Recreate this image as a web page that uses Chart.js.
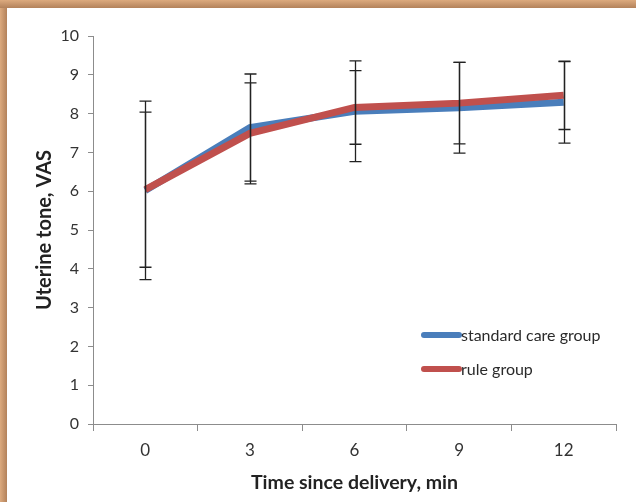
<!DOCTYPE html>
<html>
<head>
<meta charset="utf-8">
<script src="https://cdn.jsdelivr.net/npm/chart.js@4.4.1/dist/chart.umd.min.js"></script>
<style>
  html, body { margin: 0; padding: 0; background: #fff; }
  #wrap { position: relative; width: 636px; height: 502px; overflow: hidden; }
  #grafico { position: absolute; left: 0; top: 0; }
  .bordaTopo { position: absolute; left: 0; top: 0; width: 636px; height: 8px;
    background: linear-gradient(#dcaa7e, #b3825b); }
  .bordaEsq { position: absolute; left: 0; top: 0; width: 7px; height: 502px;
    background: linear-gradient(to right, #dcaa7e, #b3825b); }
</style>
</head>
<body>
<div id="wrap">
  <canvas id="grafico" width="636" height="502"></canvas>
  <div class="bordaEsq"></div>
  <div class="bordaTopo"></div>
</div>
<script>
// dados
const tempos = ['0', '3', '6', '9', '12'];
const padrao = [6.02, 7.64, 8.06, 8.15, 8.29];
const regra = [6.04, 7.49, 8.16, 8.27, 8.47];
const padraoDP = [2.3, 1.38, 1.3, 1.17, 1.05];
const regraDP = [2.0, 1.3, 0.95, 1.05, 0.88];
const valoresY = [0, 1, 2, 3, 4, 5, 6, 7, 8, 9, 10];

const fonte = 'Lato, "Open Sans", sans-serif';
const azul = '#4a7ebb';
const vermelho = '#c0504d';

// barras de erro desenhadas pelas escalas do proprio chart
const barrasErro = {
    id: 'barrasErro',
    afterDatasetsDraw(chart) {
        const ctx = chart.ctx;
        const x = chart.scales.x;
        const y = chart.scales.y;
        const series = [[padrao, padraoDP], [regra, regraDP]];
        ctx.save();
        ctx.strokeStyle = '#222';
        ctx.lineWidth = 1.3;
        series.forEach(([media, dp]) => {
            media.forEach((v, i) => {
                let px = Math.round(x.getPixelForValue(i)) + 0.5;
                let topo = y.getPixelForValue(v + dp[i]);
                let base = y.getPixelForValue(v - dp[i]);
                ctx.beginPath();
                ctx.moveTo(px, topo);
                ctx.lineTo(px, base);
                ctx.moveTo(px - 6, topo);
                ctx.lineTo(px + 6, topo);
                ctx.moveTo(px - 6, base);
                ctx.lineTo(px + 6, base);
                ctx.stroke();
            });
        });
        ctx.restore();
    }
};

// legenda dentro da area do grafico
const legenda = {
    id: 'legenda',
    afterDraw(chart) {
        const ctx = chart.ctx;
        const itens = [['standard care group', azul, 335], ['rule group', vermelho, 369]];
        ctx.save();
        itens.forEach(([texto, cor, yy]) => {
            ctx.strokeStyle = cor;
            ctx.lineWidth = 6;
            ctx.lineCap = 'round';
            ctx.beginPath();
            ctx.moveTo(424, yy);
            ctx.lineTo(459, yy);
            ctx.stroke();
            ctx.fillStyle = '#2a2a2a';
            ctx.font = '16px ' + fonte;
            ctx.textBaseline = 'middle';
            ctx.textAlign = 'left';
            ctx.fillText(texto, 461, yy + 1);
        });
        ctx.restore();
    }
};

const grafico = document.getElementById('grafico');
const graficoTonus = new Chart(grafico, {
    type: 'line',
    data: {
        labels: tempos,
        datasets: [
            {
                label: 'rule group',
                data: regra,
                borderColor: vermelho,
                backgroundColor: vermelho,
                borderWidth: 7,
                pointRadius: 0,
                tension: 0,
                order: 1
            },
            {
                label: 'standard care group',
                data: padrao,
                borderColor: azul,
                backgroundColor: azul,
                borderWidth: 7,
                pointRadius: 0,
                tension: 0,
                order: 2
            }
        ]
    },
    options: {
        responsive: false,
        animation: false,
        devicePixelRatio: 1,
        layout: { padding: { left: 29, top: 36, right: 20, bottom: 4 } },
        plugins: {
            legend: { display: false },
            tooltip: { enabled: false }
        },
        scales: {
            x: {
                offset: true,
                grid: { offset: true, drawOnChartArea: false, drawTicks: true, tickLength: 7, color: '#8c8c8c' },
                border: { color: '#8c8c8c', width: 1 },
                ticks: { color: '#333', font: { family: fonte, size: 17 }, padding: 9, maxRotation: 0 },
                title: { display: true, text: 'Time since delivery, min', color: '#222',
                    font: { family: fonte, size: 19.5, weight: 'bold' }, padding: { top: 4, bottom: 4 } },
                afterFit(s) { s.height = 502 - 424 - 4; }
            },
            y: {
                min: 0,
                max: 10,
                afterBuildTicks(s) { s.ticks = valoresY.map(v => ({ value: v })); },
                grid: { drawOnChartArea: false, drawTicks: true, tickLength: 5, color: '#8c8c8c' },
                border: { color: '#8c8c8c', width: 1 },
                ticks: { color: '#333', font: { family: fonte, size: 16 }, padding: 9 },
                title: { display: true, text: 'Uterine tone, VAS', color: '#222',
                    font: { family: fonte, size: 20, weight: 'bold' }, padding: { top: 4, bottom: 4 } },
                afterFit(s) { s.width = 93 - 29; }
            }
        }
    },
    plugins: [barrasErro, legenda]
});
</script>
</body>
</html>
